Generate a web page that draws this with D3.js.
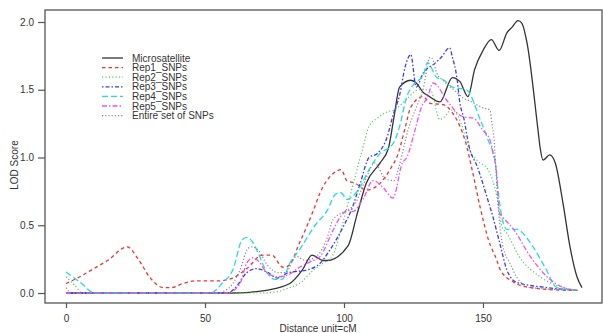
<!DOCTYPE html>
<html>
<head>
<meta charset="utf-8">
<script src="https://cdn.jsdelivr.net/npm/d3@7"></script>
<style>
  html, body { margin: 0; padding: 0; background: #fff; }
  svg { display: block; font-family: "Liberation Sans", Arial, sans-serif; }
</style>
</head>
<body>
<svg id="chart" width="603" height="333"></svg>
<script>
// ---- data: [distance (cM), LOD score] ----
const microsatellite = [[0,0],[60,0],[66,0.005],[72,0.02],[80.5,0.07],[85,0.17],[88.5,0.28],[92.5,0.24],[94,0.24],[101.5,0.35],[104.7,0.58],[108,0.81],[113,0.96],[116,1.07],[118,1.3],[120,1.52],[124,1.57],[126,1.55],[128.5,1.48],[130,1.46],[134.5,1.41],[139,1.59],[141.7,1.56],[144.6,1.45],[147,1.65],[150,1.79],[153,1.87],[155.8,1.79],[158.6,1.92],[160.4,1.96],[162.6,2.01],[164,1.99],[165.8,1.85],[169.8,1.2],[170.5,1.08],[171.6,0.98],[174,1.02],[176,0.96],[178.8,0.66],[181.3,0.34],[183.8,0.12],[185.6,0.04]];
const rep1 = [[0,0.07],[5,0.12],[10,0.18],[15,0.24],[22,0.34],[26,0.25],[30,0.12],[35,0.04],[38,0.04],[42,0.07],[47,0.09],[55,0.09],[60,0.11],[65,0.18],[70.8,0.28],[74,0.28],[78,0.19],[80,0.2],[84,0.37],[89,0.61],[91.4,0.74],[96,0.88],[99,0.91],[101,0.83],[104,0.81],[108,0.76],[113,0.81],[116.5,0.91],[119.5,1.03],[122,1.22],[124,1.37],[128.4,1.45],[131,1.4],[135.6,1.39],[139,1.33],[141.7,1.23],[143.5,1.13],[146.4,0.88],[149,0.63],[152,0.39],[155,0.24],[156,0.18],[161,0.08],[167,0.04],[181,0.02],[184,0.02]];
const rep2 = [[0,0.12],[3,0.06],[6,0],[70,0],[76,0.01],[80.5,0.04],[84,0.07],[89,0.17],[92.5,0.22],[96,0.28],[99.6,0.52],[104,0.86],[106.5,1.05],[109,1.23],[112,1.29],[116,1.34],[118,1.35],[122,1.42],[127,1.5],[131,1.5],[134.5,1.28],[139,1.35],[142.5,1.23],[144.6,1.08],[147.8,0.98],[151.8,0.91],[155,0.71],[156.8,0.49],[158.6,0.44],[163,0.27],[170.5,0.12],[179,0.04],[184,0.02]];
const rep3 = [[0,0],[58,0],[61,0.04],[65,0.15],[68.6,0.18],[72.7,0.15],[76,0.11],[80,0.15],[86.7,0.17],[91.4,0.22],[95,0.32],[100,0.5],[103,0.63],[106,0.82],[109,1.0],[112,1.03],[115.5,1.15],[117.6,1.31],[120,1.46],[122,1.67],[124,1.76],[126,1.52],[128.4,1.62],[133,1.7],[135,1.74],[138,1.81],[139,1.74],[140.6,1.59],[141.7,1.4],[143,1.3],[145,1.08],[148,0.93],[151.4,0.71],[153.6,0.56],[156,0.37],[158.6,0.17],[162,0.08],[173,0.04],[184,0.02]];
const rep4 = [[0,0.155],[5,0.08],[10.4,0],[52,0],[56.5,0.08],[60,0.17],[63.3,0.39],[65,0.41],[67,0.38],[69,0.3],[72.3,0.15],[75.2,0.1],[77.7,0.1],[80.5,0.22],[84,0.32],[89.6,0.5],[94,0.61],[97,0.73],[99,0.74],[101,0.69],[105.7,0.78],[109,0.91],[113,1.03],[117.6,1.1],[120,1.23],[122.6,1.45],[125.5,1.55],[128.4,1.6],[130,1.7],[133.4,1.59],[136,1.57],[139,1.52],[144,1.5],[149,1.28],[151.8,1.13],[154.3,0.98],[155.4,0.76],[156.8,0.56],[158.6,0.47],[162,0.47],[168,0.34],[172.3,0.19],[176.6,0.04],[184,0.02]];
const rep5 = [[0,0],[58,0],[62.6,0.07],[65,0.22],[67.3,0.26],[69,0.24],[72.3,0.15],[76,0.12],[79.5,0.13],[84,0.19],[87.8,0.23],[91.4,0.27],[96,0.46],[98.6,0.56],[101.5,0.61],[103,0.6],[107,0.7],[110.4,0.83],[114,0.78],[117.6,0.7],[121,0.96],[122.6,1.0],[125.5,1.2],[128,1.38],[130,1.44],[132,1.55],[134,1.52],[136,1.45],[139,1.37],[140.6,1.33],[143,1.3],[146.5,1.29],[150,1.2],[152.5,1.13],[153.6,1.03],[155,0.86],[155.4,0.71],[156,0.59],[158,0.54],[161,0.47],[167,0.27],[173,0.12],[179,0.04],[184,0.02]];
const entireSet = [[0,0.04],[2,0],[55,0],[56.5,0.01],[60,0.07],[62.6,0.17],[65.5,0.33],[67,0.34],[69,0.32],[72.3,0.21],[76.3,0.15],[78.8,0.15],[83,0.27],[86,0.24],[90,0.27],[94,0.41],[96,0.54],[100,0.6],[104,0.66],[108,0.85],[111,0.96],[115,0.84],[118,0.83],[120,0.95],[123,1.2],[126,1.37],[128.4,1.5],[131,1.74],[132,1.72],[133.4,1.62],[135.6,1.57],[140.6,1.48],[142.8,1.44],[145,1.42],[149.6,1.37],[152.5,1.35],[153.2,1.25],[154,1.13],[155,0.78],[156,0.51],[157.2,0.34],[159.7,0.22],[162,0.12],[167,0.04],[184,0.02]];

const seriesNames = ["Microsatellite","Rep1_SNPs","Rep2_SNPs","Rep3_SNPs","Rep4_SNPs","Rep5_SNPs","Entire set of SNPs"];
const xTicks = [0, 50, 100, 150];
const yTicks = [0, 0.5, 1, 1.5, 2];
const xLabel = "Distance unit=cM";
const yLabel = "LOD Score";

// ---- styles ----
const styles = [
  { color: "#333333", dash: null,            width: 1.3 },
  { color: "#ee3333", dash: "3.5,3",         width: 1.3 },
  { color: "#55cc55", dash: "1.2,2.2",       width: 1.2 },
  { color: "#3a3aee", dash: "1.5,2,4,2",     width: 1.3 },
  { color: "#22dddd", dash: "6,3",           width: 1.3 },
  { color: "#ee55ee", dash: "5,2,1.5,2",     width: 1.3 },
  { color: "#888888", dash: "1.2,2",         width: 1.2 }
];
const allSeries = [microsatellite, rep1, rep2, rep3, rep4, rep5, entireSet];

const svg = d3.select("#chart");
const box = { left: 45, top: 10, right: 602, bottom: 303 };

const x = d3.scaleLinear().domain([0, 150]).range([66, 483]);
const y = d3.scaleLinear().domain([0, 2]).range([293, 22]);

const line = d3.line()
  .x(d => x(d[0]))
  .y(d => y(d[1]))
  .curve(d3.curveMonotoneX);

const plot = svg.append("g");
allSeries.forEach((s, i) => {
  plot.append("path")
    .datum(s)
    .attr("d", line)
    .attr("fill", "none")
    .attr("stroke", styles[i].color)
    .attr("stroke-width", styles[i].width)
    .attr("stroke-dasharray", styles[i].dash)
    .attr("stroke-linejoin", "round");
});

// frame
svg.append("rect")
  .attr("x", box.left).attr("y", box.top)
  .attr("width", box.right - box.left).attr("height", box.bottom - box.top)
  .attr("fill", "none").attr("stroke", "#555").attr("stroke-width", 1.3);

// axes
const yAxis = svg.append("g")
  .attr("transform", `translate(${box.left},0)`)
  .call(d3.axisLeft(y).tickValues(yTicks).tickFormat(d3.format(".1f")).tickSize(7).tickPadding(4));
const xAxis = svg.append("g")
  .attr("transform", `translate(0,${box.bottom})`)
  .call(d3.axisBottom(x).tickValues(xTicks).tickFormat(d3.format("d")).tickSize(5).tickPadding(7));
[yAxis, xAxis].forEach(a => {
  a.select(".domain").remove();
  a.selectAll(".tick line").attr("stroke", "#555").attr("stroke-width", 1.2);
  a.selectAll(".tick text").attr("fill", "#333").style("font-size", "10px")
    .style("font-family", "'Liberation Sans', Arial, sans-serif");
});

// axis labels
svg.append("text")
  .attr("x", 318).attr("y", 332)
  .attr("text-anchor", "middle")
  .attr("fill", "#333").style("font-size", "10px")
  .text(xLabel);
svg.append("text")
  .attr("transform", "translate(18,165) rotate(-90)")
  .attr("text-anchor", "middle")
  .attr("fill", "#333").style("font-size", "10px")
  .text(yLabel);

// legend
const legend = svg.append("g");
seriesNames.forEach((name, i) => {
  const cy = 58 + i * 9.6;
  legend.append("line")
    .attr("x1", 102).attr("x2", 123).attr("y1", cy).attr("y2", cy)
    .attr("stroke", styles[i].color)
    .attr("stroke-width", styles[i].width)
    .attr("stroke-dasharray", styles[i].dash);
  legend.append("text")
    .attr("x", 132).attr("y", cy + 3.5)
    .attr("fill", "#333").style("font-size", "10px")
    .text(name);
});
</script>
</body>
</html>
